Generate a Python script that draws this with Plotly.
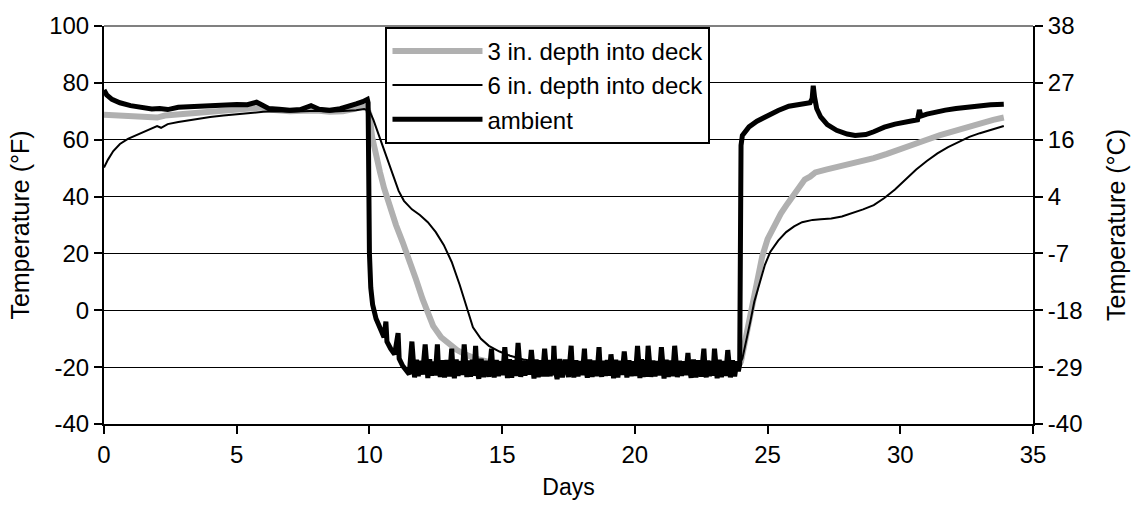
import plotly.graph_objects as go

# ---- Temperature records (°F) over the test, days from start ----

# 3 in. depth into deck
d3_days = [0, 0.5, 1.0, 1.5, 2.0, 2.3, 3.0, 3.5, 4.0, 4.5, 5.0, 5.5, 5.9, 6.3, 7.0, 7.5,
           8.0, 8.5, 9.0, 9.4, 9.7, 9.9, 10.0, 10.1, 10.25, 10.4, 10.55, 10.7, 10.85,
           11.0, 11.25, 11.5, 11.75, 12.0, 12.2, 12.4, 12.7, 13.0, 13.3, 13.6, 14.0,
           14.5, 15.0, 16.0, 17.0, 18.0, 19.0, 20.0, 21.0, 22.0, 23.0, 23.9, 24.0,
           24.15, 24.3, 24.45, 24.6, 24.8, 25.0, 25.25, 25.5, 25.75, 26.0, 26.2, 26.4,
           26.6, 26.8, 27.2, 27.6, 28.0, 28.5, 29.0, 29.5, 30.0, 30.5, 31.0, 31.5,
           32.0, 32.5, 33.0, 33.5, 33.9]
d3_temp = [68.8, 68.6, 68.5, 68.3, 67.8, 68.5, 69.0, 69.5, 69.9, 70.2, 70.5, 70.8, 71.3,
           70.5, 70.0, 70.2, 70.3, 69.8, 70.0, 70.8, 71.8, 71.5, 69.0, 61.0, 54.0, 48.5,
           43.0, 38.5, 34.0, 30.0, 24.0, 18.0, 11.0, 4.0, -1.0, -5.5, -9.5, -12.0, -14.0,
           -15.5, -17.0, -18.2, -18.8, -19.2, -19.0, -19.4, -19.2, -19.5, -19.3, -19.6,
           -19.5, -19.8, -18.0, -11.0, -3.0, 5.0, 12.0, 19.0, 25.0, 30.0, 34.0, 37.5,
           41.0, 44.0, 46.0, 47.0, 48.5, 49.5, 50.3, 51.2, 52.2, 53.5, 55.0, 56.5, 58.2,
           60.0, 61.6, 63.0, 64.5, 66.0, 67.0, 67.8]

# 6 in. depth into deck
d6_days = [0, 0.15, 0.35, 0.6, 0.9, 1.2, 1.5, 1.8, 2.0, 2.15, 2.4, 2.8, 3.2, 3.6, 4.0,
           4.5, 5.0, 5.5, 6.0, 6.5, 7.0, 7.5, 8.0, 8.5, 9.0, 9.5, 9.8, 10.0, 10.15, 10.3,
           10.5, 10.7, 10.9, 11.1, 11.3, 11.6, 11.9, 12.2, 12.5, 12.8, 13.1, 13.4, 13.7,
           13.9, 14.2, 14.5, 14.9, 15.3, 15.8, 16.3, 17.0, 18.0, 19.0, 20.0, 21.0, 22.0,
           23.0, 23.9, 24.05, 24.2, 24.35, 24.5, 24.7, 24.9, 25.1, 25.4, 25.7, 26.0, 26.3,
           26.7, 27.0, 27.4, 27.8, 28.2, 28.6, 29.0, 29.4, 29.8, 30.2, 30.6, 31.0, 31.4,
           31.8, 32.2, 32.6, 33.0, 33.4, 33.9]
d6_temp = [50.2, 53.0, 56.0, 58.5, 60.3, 61.5, 62.6, 63.8, 64.8, 64.2, 65.5, 66.2, 66.8,
           67.5, 68.0, 68.5, 69.0, 69.4, 69.8, 70.0, 69.8, 70.0, 70.2, 69.8, 70.0, 70.4,
           70.8, 70.2, 67.0, 63.0, 58.0, 52.5, 47.0, 42.0, 38.5, 35.5, 33.5, 31.0, 27.5,
           23.0, 17.0, 9.0, 0.0, -6.0, -10.0, -12.5, -14.5, -16.0, -17.3, -18.0, -18.5,
           -18.8, -18.6, -19.0, -18.8, -19.1, -19.0, -19.3, -17.0, -11.0, -4.0, 3.0, 10.0,
           16.0, 20.5, 24.5, 27.5, 29.5, 31.0, 31.8, 32.0, 32.3, 33.0, 34.2, 35.5, 37.0,
           39.5, 42.5, 46.0, 49.5, 52.5, 55.2, 57.4, 59.3, 61.0, 62.3, 63.5, 64.8]

# ambient air: warm soak, pull-down, cold soak with cycling, recovery
amb_warm_days = [0, 0.1, 0.3, 0.6, 1.0, 1.4, 1.8, 2.1, 2.4, 2.8, 3.2, 3.6, 4.0, 4.5, 5.0,
                 5.4, 5.75, 5.9, 6.2, 6.6, 7.0, 7.4, 7.8, 8.1, 8.5, 8.9, 9.2, 9.5, 9.75,
                 9.92]
amb_warm_temp = [77.5, 75.8, 74.2, 73.0, 72.0, 71.2, 70.8, 71.0, 70.6, 71.4, 71.6, 71.9,
                 72.0, 72.2, 72.4, 72.3, 73.2, 72.5, 71.0, 70.7, 70.4, 70.6, 72.0, 70.7,
                 70.4, 70.9, 71.6, 72.6, 73.4, 74.2]

amb_drop_days = [9.95, 9.97, 10.0, 10.05, 10.12, 10.25, 10.4, 10.55, 10.62, 10.66, 10.8,
                 10.95, 11.08, 11.12, 11.25, 11.4, 11.5]
amb_drop_temp = [73.0, 45.0, 20.0, 8.0, 2.0, -3.0, -6.5, -9.5, -4.0, -11.0, -13.5, -15.5,
                 -8.0, -17.0, -19.5, -21.5, -22.5]

# cold soak: one row per half-day chiller cycle (spike, then the low band)
amb_cold_days = [
    11.6, 11.64, 11.7, 11.77, 11.84, 11.92, 12.0,
    12.1, 12.14, 12.2, 12.27, 12.34, 12.41, 12.48,
    12.56, 12.6, 12.67, 12.75, 12.83, 12.92, 13.02,
    13.1, 13.14, 13.2, 13.27, 13.34, 13.42, 13.5,
    13.57, 13.61, 13.67, 13.74, 13.81, 13.88, 13.94,
    14.0, 14.04, 14.12, 14.21, 14.3, 14.4, 14.5,
    14.6, 14.64, 14.7, 14.78, 14.86, 14.94, 15.02,
    15.1, 15.14, 15.2, 15.28, 15.36, 15.44, 15.52,
    15.6, 15.64, 15.7, 15.78, 15.86, 15.94, 16.02,
    16.1, 16.14, 16.2, 16.28, 16.36, 16.44, 16.52,
    16.6, 16.64, 16.69, 16.75, 16.81, 16.86, 16.91,
    16.95, 16.99, 17.07, 17.17, 17.27, 17.38, 17.5,
    17.6, 17.64, 17.7, 17.78, 17.86, 17.94, 18.02,
    18.1, 18.14, 18.21, 18.3, 18.39, 18.48, 18.57,
    18.65, 18.69, 18.75, 18.82, 18.89, 18.96, 19.03,
    19.1, 19.14, 19.2, 19.28, 19.36, 19.44, 19.52,
    19.6, 19.64, 19.7, 19.78, 19.86, 19.94, 20.02,
    20.1, 20.14, 20.19, 20.25, 20.31, 20.37, 20.44,
    20.5, 20.54, 20.6, 20.68, 20.76, 20.84, 20.92,
    21.0, 21.04, 21.1, 21.18, 21.26, 21.34, 21.42,
    21.5, 21.54, 21.6, 21.68, 21.76, 21.84, 21.92,
    22.0, 22.04, 22.12, 22.21, 22.3, 22.4, 22.5,
    22.6, 22.64, 22.69, 22.75, 22.81, 22.87, 22.94,
    23.0, 23.04, 23.1, 23.18, 23.26, 23.34, 23.42,
    23.5, 23.54, 23.6, 23.68, 23.76, 23.84, 23.9,
]
amb_cold_temp = [
    -11.0, -19.5, -23.6, -17.4, -23.2, -17.8, -22.6,
    -12.0, -19.8, -23.8, -17.2, -23.0, -18.0, -22.9,
    -12.0, -20.0, -23.4, -17.6, -23.6, -17.5, -23.2,
    -13.5, -19.6, -23.9, -17.3, -23.1, -17.9, -22.7,
    -12.0, -19.9, -23.5, -17.7, -23.4, -17.4, -23.0,
    -12.5, -20.2, -24.1, -17.1, -23.5, -17.8, -23.4,
    -13.5, -19.7, -23.6, -17.5, -23.2, -18.0, -22.8,
    -13.0, -20.1, -23.8, -17.2, -23.7, -17.6, -23.1,
    -11.5, -19.5, -23.4, -17.7, -23.0, -17.9, -22.6,
    -14.0, -20.0, -24.0, -17.3, -23.5, -17.6, -23.3,
    -13.5, -19.8, -23.3, -17.5, -23.2, -17.8, -22.9,
    -12.5, -20.3, -24.2, -17.2, -23.6, -17.4, -23.5,
    -12.5, -19.6, -23.6, -17.6, -23.3, -17.9, -22.8,
    -13.5, -20.0, -23.7, -17.3, -23.4, -17.7, -23.2,
    -13.0, -19.9, -23.4, -17.8, -23.1, -17.5, -23.0,
    -15.5, -20.1, -23.9, -17.4, -23.6, -17.8, -22.7,
    -14.5, -19.7, -23.6, -17.6, -23.2, -18.0, -23.1,
    -12.5, -20.2, -23.8, -17.2, -23.5, -17.6, -23.4,
    -12.5, -19.8, -23.4, -17.7, -23.3, -17.9, -22.9,
    -13.0, -20.0, -24.0, -17.4, -23.4, -17.7, -23.2,
    -12.5, -19.5, -23.5, -17.8, -23.1, -18.0, -22.8,
    -15.0, -20.1, -23.7, -17.3, -23.6, -17.6, -23.3,
    -13.5, -19.9, -23.6, -17.7, -23.2, -17.8, -23.0,
    -13.5, -20.0, -23.9, -17.4, -23.5, -17.9, -23.1,
    -14.0, -19.7, -23.6, -17.6, -23.3, -18.0, -21.5,
]

amb_rise_days = [23.95, 23.97, 24.0, 24.05, 24.3, 24.6, 25.0, 25.4, 25.8, 26.2, 26.6,
                 26.68, 26.72, 26.77, 26.85, 27.0, 27.25, 27.6, 28.0, 28.3, 28.7, 29.0,
                 29.4, 29.8, 30.2, 30.65, 30.72, 30.78, 31.0, 31.3, 31.7, 32.1, 32.6,
                 33.0, 33.4, 33.9]
amb_rise_temp = [-19.0, 20.0, 58.0, 61.5, 64.5, 66.5, 68.5, 70.3, 71.8, 72.6, 73.0, 74.5,
                 79.0, 75.0, 71.0, 68.0, 65.3, 63.3, 62.0, 61.5, 61.8, 62.8, 64.4, 65.5,
                 66.2, 67.0, 70.5, 68.3, 69.0, 69.7, 70.4, 71.0, 71.6, 72.0, 72.3, 72.5]

amb_days = amb_warm_days + amb_drop_days + amb_cold_days + amb_rise_days
amb_temp = amb_warm_temp + amb_drop_temp + amb_cold_temp + amb_rise_temp

# axis ticks: °F on the left, the same gridlines labelled in °C on the right
f_ticks = [100, 80, 60, 40, 20, 0, -20, -40]
f_labels = ["100", "80", "60", "40", "20", "0", "-20", "-40"]
c_labels = ["38", "27", "16", "4", "-7", "-18", "-29", "-40"]
x_ticks = [0, 5, 10, 15, 20, 25, 30, 35]

FONT = "Liberation Sans, Arial, sans-serif"

fig = go.Figure()
fig.add_trace(go.Scatter(x=d3_days, y=d3_temp, mode="lines",
                         name="3 in. depth into deck",
                         line=dict(color="#b0b0b0", width=6)))
fig.add_trace(go.Scatter(x=d6_days, y=d6_temp, mode="lines",
                         name="6 in. depth into deck",
                         line=dict(color="black", width=2)))
# ambient is plotted against the right-hand axis, which shares the left axis' range,
# so the °C scale is rendered alongside it
fig.add_trace(go.Scatter(x=amb_days, y=amb_temp, mode="lines",
                         name="ambient", yaxis="y2",
                         line=dict(color="black", width=5)))

axis_common = dict(
    showline=True, linecolor="black", linewidth=2,
    ticks="outside", ticklen=8, tickwidth=2, tickcolor="black",
    tickfont=dict(family=FONT, size=24, color="black"),
    zeroline=False,
)

fig.update_layout(
    width=1138, height=525,
    margin=dict(l=104, r=103, t=20, b=101),
    paper_bgcolor="white", plot_bgcolor="white",
    font=dict(family=FONT, color="black"),
    xaxis=dict(
        range=[0, 35], tickvals=x_ticks, showgrid=False,
        title=dict(text="Days", font=dict(family=FONT, size=23), standoff=12),
        **axis_common,
    ),
    yaxis=dict(
        range=[-40, 100], tickvals=f_ticks, ticktext=f_labels,
        showgrid=True, gridcolor="black", gridwidth=1,
        title=dict(text="Temperature (°F)", font=dict(family=FONT, size=25), standoff=12),
        **axis_common,
    ),
    yaxis2=dict(
        range=[-40, 100], tickvals=f_ticks, ticktext=c_labels,
        overlaying="y", side="right", anchor="x", showgrid=False,
        title=dict(text="Temperature (°C)", font=dict(family=FONT, size=25), standoff=26),
        **axis_common,
    ),
    legend=dict(
        x=0.303, y=0.998, xanchor="left", yanchor="top",
        bgcolor="white", bordercolor="black", borderwidth=2,
        font=dict(family=FONT, size=24, color="black"),
        itemwidth=90, tracegroupgap=0,
    ),
    shapes=[dict(type="line", xref="paper", yref="paper", x0=0, x1=1, y0=1, y1=1,
                 line=dict(color="#808080", width=2), layer="above")],
)

fig.write_html("out.html")
